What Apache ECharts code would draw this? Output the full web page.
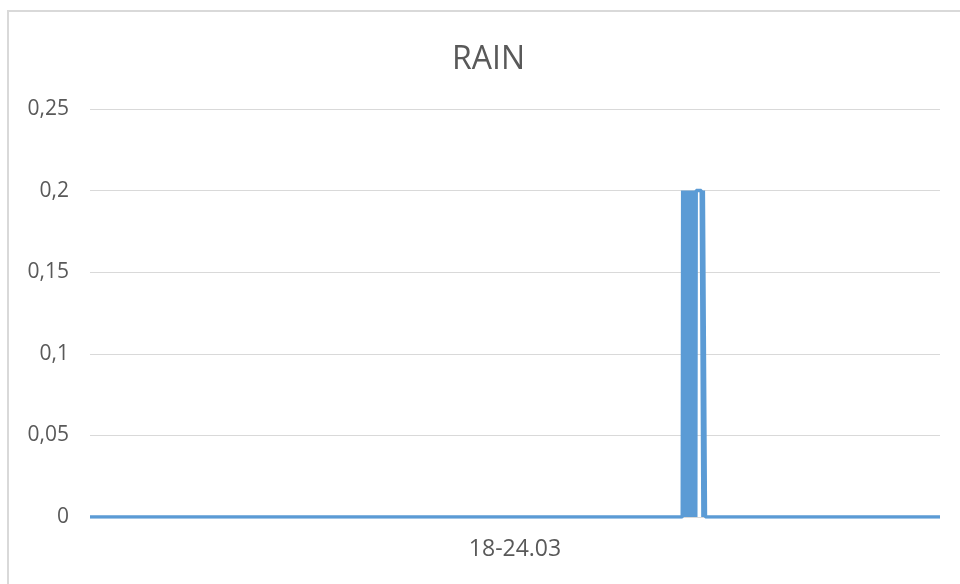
<!DOCTYPE html>
<html>
<head>
<meta charset="utf-8">
<title>RAIN</title>
<script src="https://cdn.jsdelivr.net/npm/echarts@6/dist/echarts.min.js"></script>
<style>
  html, body { margin: 0; padding: 0; background: #ffffff; }
  #chart { width: 960px; height: 584px; }
</style>
</head>
<body>
<div id="chart"></div>
<script>
// Rain gauge, one week of 5-minute readings (18.03 - 24.03)
const chartTitle = 'RAIN';
const periodLabel = '18-24.03';
const sampleCount = 2016;               // 7 days x 288 readings
const yTicks = [0, 0.05, 0.1, 0.15, 0.2, 0.25];

// All readings are 0 except for the short shower window below
const showerStart = 1404;               // index of first reading in the window
const showerValues = [
  0, 0.2, 0, 0.2, 0, 0.2, 0, 0.2, 0, 0.2,
  0, 0.2, 0, 0.2, 0, 0.2, 0, 0.2, 0, 0.2,
  0, 0.2, 0, 0.2, 0, 0.2, 0, 0.2, 0, 0.2,
  0, 0.2, 0, 0.2,
  0.2, 0.2, 0.2, 0.2, 0.2, 0.2, 0.2, 0.2, 0.2, 0.2, 0.2,
  0.2, 0.2, 0.2, 0.2,
  0,
  0.2, 0.2, 0.2, 0.2, 0.2,
  0
];

const lastIndex = sampleCount - 1;
const rainData = [[0, 0]];
showerValues.forEach((v, i) => rainData.push([showerStart + i, v]));
rainData.push([lastIndex, 0]);

const textColor = '#595959';
const fontFamily = '"Open Sans", "Liberation Sans", sans-serif';

const chart = echarts.init(document.getElementById('chart'), null, { renderer: 'canvas' });
chart.setOption({
  animation: false,
  backgroundColor: '#ffffff',
  title: {
    text: chartTitle,
    left: 447,
    top: 39,
    textStyle: { color: textColor, fontSize: 32, fontWeight: 'normal', fontFamily: fontFamily }
  },
  grid: { left: 90, right: 20, top: 109, bottom: 67, containLabel: false },
  xAxis: {
    type: 'value',
    min: 0,
    max: lastIndex,
    name: periodLabel,
    nameLocation: 'middle',
    nameGap: 21,
    nameTextStyle: { color: textColor, fontSize: 23, fontFamily: fontFamily },
    axisLine: { show: false },
    axisTick: { show: false },
    axisLabel: { show: false },
    splitLine: { show: false }
  },
  yAxis: {
    type: 'value',
    min: yTicks[0],
    max: yTicks[yTicks.length - 1],
    interval: yTicks[1] - yTicks[0],
    axisLine: { show: false },
    axisTick: { show: false },
    axisLabel: {
      color: textColor,
      fontSize: 21,
      fontFamily: fontFamily,
      margin: 21,
      formatter: v => String(+v.toFixed(2)).replace('.', ',')
    },
    splitLine: { lineStyle: { color: '#d9d9d9', width: 1 } }
  },
  series: [{
    name: chartTitle,
    type: 'line',
    data: rainData,
    symbol: 'none',
    lineStyle: { color: '#5b9bd5', width: 3.5 },
    itemStyle: { color: '#5b9bd5' }
  }],
  graphic: [{
    type: 'rect',
    shape: { x: 8, y: 11, width: 1200, height: 1000 },
    style: { fill: 'none', stroke: '#d9d9d9', lineWidth: 2 },
    silent: true,
    z: 100
  }]
});
</script>
</body>
</html>
